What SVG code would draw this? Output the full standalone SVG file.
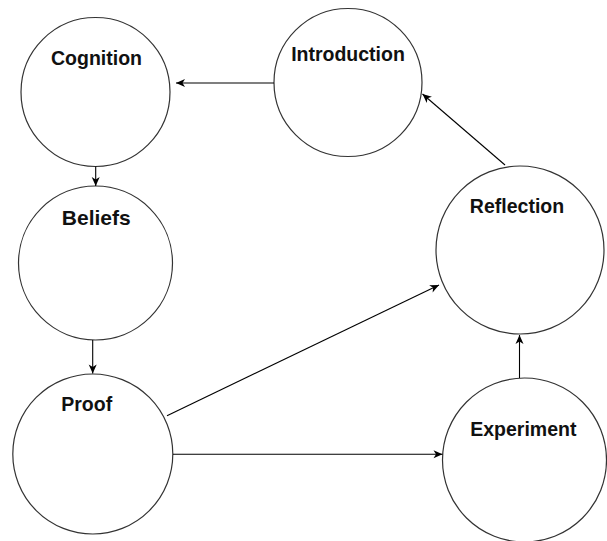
<svg xmlns="http://www.w3.org/2000/svg" width="607" height="541" viewBox="0 0 607 541">
<defs>
<style>
.node circle{fill:#fff;stroke:#333;stroke-width:1.2}
.node text{font-family:"Liberation Sans",Arial,sans-serif;font-weight:bold;font-size:19.5px;fill:#111;text-anchor:middle}
.edges line{stroke:#000;stroke-width:1.1}
</style>
<marker id="arr" markerUnits="userSpaceOnUse" markerWidth="12" markerHeight="12" viewBox="0 0 12 12" refX="10" refY="6" orient="auto">
<path d="M1,2 L10,6 L1,10 L3.5,6 Z" fill="#000"/>
</marker>
</defs>
<rect width="607" height="541" fill="#fff"/>
<g id="cognition" class="node"><circle cx="95.5" cy="92" r="74.5"/><text x="96.5" y="65">Cognition</text></g>
<g id="introduction" class="node"><circle cx="348" cy="82.5" r="74"/><text x="348" y="60.7">Introduction</text></g>
<g id="reflection" class="node"><circle cx="520" cy="250" r="84"/><text x="517" y="213.3">Reflection</text></g>
<g id="beliefs" class="node"><circle cx="95.5" cy="263" r="77"/><text x="96.3" y="224.5" style="font-size:21px">Beliefs</text></g>
<g id="proof" class="node"><circle cx="92.8" cy="454" r="80"/><text x="86.7" y="411">Proof</text></g>
<g id="experiment" class="node"><circle cx="524.5" cy="460" r="82"/><text x="523.3" y="435.7">Experiment</text></g>
<g id="connectors" class="edges">
<line x1="274" y1="83" x2="176" y2="83" marker-end="url(#arr)"/>
<line x1="505" y1="165" x2="422.5" y2="94" marker-end="url(#arr)"/>
<line x1="95.7" y1="166.5" x2="95.7" y2="186" marker-end="url(#arr)"/>
<line x1="92.7" y1="340" x2="92.7" y2="373.5" marker-end="url(#arr)"/>
<line x1="167" y1="415.7" x2="439" y2="285" marker-end="url(#arr)"/>
<line x1="173" y1="454.3" x2="442.5" y2="454.3" marker-end="url(#arr)"/>
<line x1="519.5" y1="378" x2="519.5" y2="335" marker-end="url(#arr)"/>
</g>
</svg>
